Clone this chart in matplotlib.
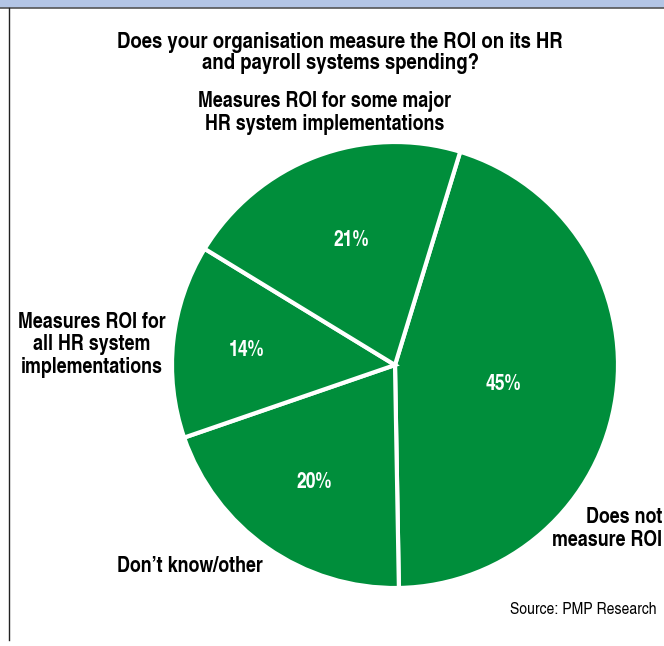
import matplotlib
matplotlib.use("Agg")
import matplotlib.pyplot as plt
from matplotlib.patches import Rectangle
from matplotlib.lines import Line2D

W, H = 664, 646

title = "Does your organisation measure the ROI on its HR\nand payroll systems spending?"
categories = ["Does not\nmeasure ROI", "Don\u2019t know/other",
              "Measures ROI for\nall HR system\nimplementations",
              "Measures ROI for some major\nHR system implementations"]
shares = [45, 20, 14, 21]
source = "Source: PMP Research"

GREEN = "#008E3B"
FONT = ["TeX Gyre Heros Cn", "Archivo Narrow", "Liberation Sans", "DejaVu Sans"]

fig = plt.figure(figsize=(W / 100, H / 100), dpi=100)
fig.patch.set_facecolor("white")

# frame: top band and left rule, in pixel coordinates
bg = fig.add_axes([0, 0, 1, 1])
bg.set_xlim(0, W)
bg.set_ylim(H, 0)
bg.axis("off")
bg.add_patch(Rectangle((0, 0), W, 7.5, facecolor="#B3C5E5", edgecolor="none"))
bg.add_line(Line2D([0, W], [8, 8], color="#555555", lw=1.2))
bg.add_line(Line2D([8.5, 8.5], [8, 640], color="#222222", lw=1.0))

def fx(x):
    return x / W

def fy(y):
    return 1 - y / H

# pie axes sized to the circle
cx, cy, r = 395, 365, 223
ax = fig.add_axes([fx(cx - r), fy(cy + r), 2 * r / W, 2 * r / H])
wedges, _ = ax.pie(shares, startangle=73, counterclock=False, radius=1,
                   colors=[GREEN] * len(shares),
                   wedgeprops=dict(edgecolor="white", linewidth=3))
ax.set_xlim(-1.0, 1.0)
ax.set_ylim(-1.0, 1.0)
ax.set_aspect("auto")
ax.axis("off")

# percentage labels inside wedges
pct_pos = [(503, 385), (314, 483), (246, 351), (351, 240)]
for (px, py), v in zip(pct_pos, shares):
    fig.text(fx(px), fy(py), f"{v}%", ha="center", va="center", color="white",
             fontsize=15.5, fontweight="bold", family=FONT)

fig.text(fx(340), fy(53), title, ha="center", va="center", fontsize=16.3,
         fontweight="bold", family=FONT, linespacing=1.0)

label_pos = [((662, 529), "right"), ((190, 567), "center"),
             ((92, 345), "center"), ((325, 113), "center")]
for ((lx, ly), ha), lab in zip(label_pos, categories):
    fig.text(fx(lx), fy(ly), lab, ha=ha, va="center", multialignment=ha,
             fontsize=15.7, fontweight="bold", family=FONT, linespacing=1.1)

fig.text(fx(657), fy(610), source, ha="right", va="center", fontsize=12.3,
         family=FONT)

fig.savefig("out.png", dpi=100)
